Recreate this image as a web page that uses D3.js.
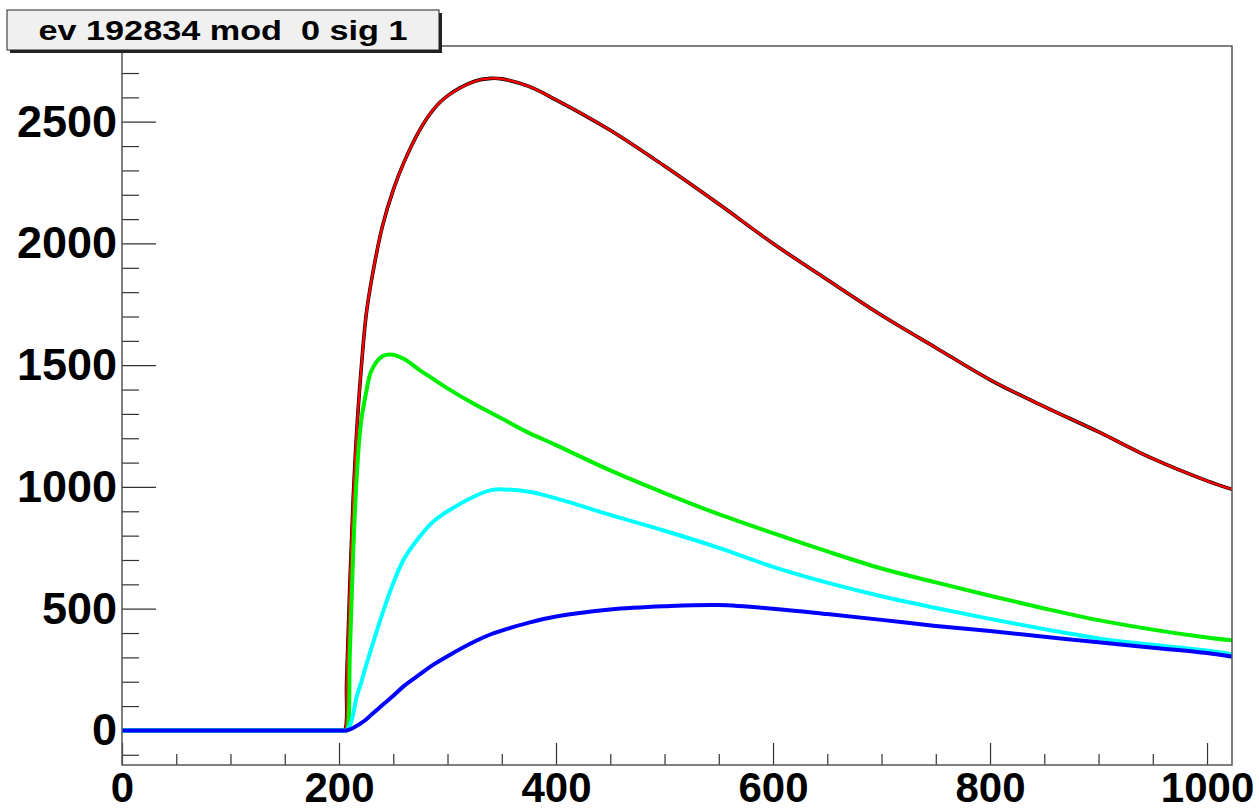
<!DOCTYPE html>
<html>
<head>
<meta charset="utf-8">
<script src="https://cdn.jsdelivr.net/npm/d3@7"></script>
<style>
    html, body { margin: 0; padding: 0; background: #fff; }
    svg { display: block; font-family: "Liberation Sans", Arial, sans-serif; }
</style>
</head>
<body>
<div id="chart"></div>
<script>
// sample positions (ADC time bins)
var xSamples = [0, 200, 205, 207, 210, 213, 216, 220, 225, 230, 240, 250, 260, 275, 287, 300, 325, 340,
                350, 375, 400, 450, 500, 550, 600, 650, 700, 750, 800, 850, 900, 950, 1000, 1023];

// black: measured pulse (histogram)
var histCounts = [0, 0, 0, 200, 600, 945, 1205, 1460, 1705, 1850, 2070, 2220, 2335, 2471, 2550, 2606, 2666, 2678,
                  2676, 2645, 2590, 2465, 2318, 2162, 2000, 1851, 1705, 1572, 1440, 1330, 1226, 1116, 1025, 990];
// red: total fit
var fitTotal = [0, 0, 0, 200, 600, 945, 1205, 1460, 1705, 1850, 2070, 2220, 2335, 2471, 2550, 2606, 2666, 2678,
                2676, 2645, 2590, 2465, 2318, 2162, 2000, 1851, 1705, 1572, 1440, 1330, 1226, 1116, 1025, 990];
// green, cyan, blue: fit components
var compFast = [0, 0, 0, 0, 320, 720, 1015, 1255, 1388, 1479, 1537, 1543, 1525, 1478, 1443, 1405, 1340, 1305,
                1281, 1222, 1172, 1068, 975, 888, 810, 735, 665, 608, 553, 501, 453, 414, 382, 370];
var compMid = [0, 0, 0, 0, 20, 65, 135, 190, 268, 340, 480, 605, 705, 800, 858, 900, 962, 987,
               990, 980, 953, 885, 820, 750, 672, 607, 551, 503, 458, 416, 378, 352, 328, 313];
var compSlow = [0, 0, 0, 0, 4, 10, 18, 29, 45, 65, 104, 142, 183, 232, 270, 305, 365, 395,
                410, 443, 468, 497, 510, 515, 500, 478, 454, 429, 408, 385, 362, 340, 318, 303];

var xMajorTicks = [0, 200, 400, 600, 800, 1000];
var yMajorTicks = [0, 500, 1000, 1500, 2000, 2500];
var titleText = 'ev 192834 mod  0 sig 1';

var width = 1259, height = 810;
var frame = { left: 122, right: 1232, top: 46, bottom: 765 };

var svg = d3.select('#chart').append('svg')
    .attr('width', width)
    .attr('height', height);

var x = d3.scaleLinear().domain([0, 1023]).range([frame.left, frame.right]);
var y = d3.scaleLinear().domain([-142, 2811]).range([frame.bottom, frame.top]);

// minor ticks
var xMinor = d3.range(0, 1023, 50).filter(function(d) { return xMajorTicks.indexOf(d) < 0; });
var yMinor = d3.range(-100, 2811, 100).filter(function(d) { return yMajorTicks.indexOf(d) < 0; });

function styleAxis(size) {
    return function(g) {
        g.select('.domain').remove();
        g.selectAll('.tick line').attr('stroke', '#333').attr('stroke-width', 1.2);
        g.selectAll('.tick text')
            .attr('fill', '#000')
            .style('font-size', size + 'px')
            .style('font-weight', 'bold');
    };
}

svg.append('g')
    .attr('transform', 'translate(' + frame.left + ',0)')
    .call(d3.axisLeft(y).tickValues(yMinor).tickSizeInner(-17).tickSizeOuter(0).tickFormat(''))
    .call(styleAxis(45));
svg.append('g')
    .attr('transform', 'translate(' + frame.left + ',0)')
    .call(d3.axisLeft(y).tickValues(yMajorTicks).tickSizeInner(-34).tickSizeOuter(0).tickPadding(5).tickFormat(d3.format('d')))
    .call(styleAxis(45));

svg.append('g')
    .attr('transform', 'translate(0,' + frame.bottom + ')')
    .call(d3.axisBottom(x).tickValues(xMinor).tickSizeInner(-11).tickSizeOuter(0).tickFormat(''))
    .call(styleAxis(42));
// baseline a bit higher so the glyphs stay inside the window
svg.append('g')
    .attr('transform', 'translate(0,' + frame.bottom + ')')
    .call(d3.axisBottom(x).tickValues(xMajorTicks).tickSizeInner(-22).tickSizeOuter(0).tickPadding(7).tickFormat(d3.format('d')))
    .call(styleAxis(42));

// curves
svg.append('clipPath').attr('id', 'plot-clip')
    .append('rect')
    .attr('x', frame.left).attr('y', frame.top)
    .attr('width', frame.right - frame.left).attr('height', frame.bottom - frame.top);

var curves = svg.append('g').attr('clip-path', 'url(#plot-clip)');

var series = [
    { values: histCounts, color: '#000000', width: 3.6 },
    { values: fitTotal, color: '#ff0000', width: 2.4 },
    { values: compFast, color: '#00ee00', width: 4 },
    { values: compMid, color: '#00ffff', width: 4 },
    { values: compSlow, color: '#0000ff', width: 4 }
];

series.forEach(function(s) {
    var line = d3.line()
        .x(function(d, i) { return x(xSamples[i]); })
        .y(function(d) { return y(d); })
        .curve(d3.curveCatmullRom.alpha(0.5));
    curves.append('path')
        .datum(s.values)
        .attr('fill', 'none')
        .attr('stroke', s.color)
        .attr('stroke-width', s.width)
        .attr('stroke-linejoin', 'round')
        .attr('d', line);
});

// frame
svg.append('rect')
    .attr('x', frame.left).attr('y', frame.top)
    .attr('width', frame.right - frame.left).attr('height', frame.bottom - frame.top)
    .attr('fill', 'none')
    .attr('stroke', '#555')
    .attr('stroke-width', 1.5);

// title box with shadow
var tb = { x: 7, y: 10, w: 432, h: 40 };
svg.append('rect')
    .attr('x', tb.x + 3).attr('y', tb.y + 3)
    .attr('width', tb.w).attr('height', tb.h)
    .attr('fill', '#222');
svg.append('rect')
    .attr('x', tb.x).attr('y', tb.y)
    .attr('width', tb.w).attr('height', tb.h)
    .attr('fill', '#f0f0f0')
    .attr('stroke', '#222')
    .attr('stroke-width', 1);
svg.append('text')
    .attr('x', tb.x + tb.w / 2)
    .attr('y', tb.y + 30)
    .attr('text-anchor', 'middle')
    .attr('xml:space', 'preserve')
    .attr('textLength', 369)
    .attr('lengthAdjust', 'spacingAndGlyphs')
    .style('white-space', 'pre')
    .style('font-size', '27px')
    .style('font-weight', 'bold')
    .attr('fill', '#000')
    .text(titleText);
</script>
</body>
</html>
